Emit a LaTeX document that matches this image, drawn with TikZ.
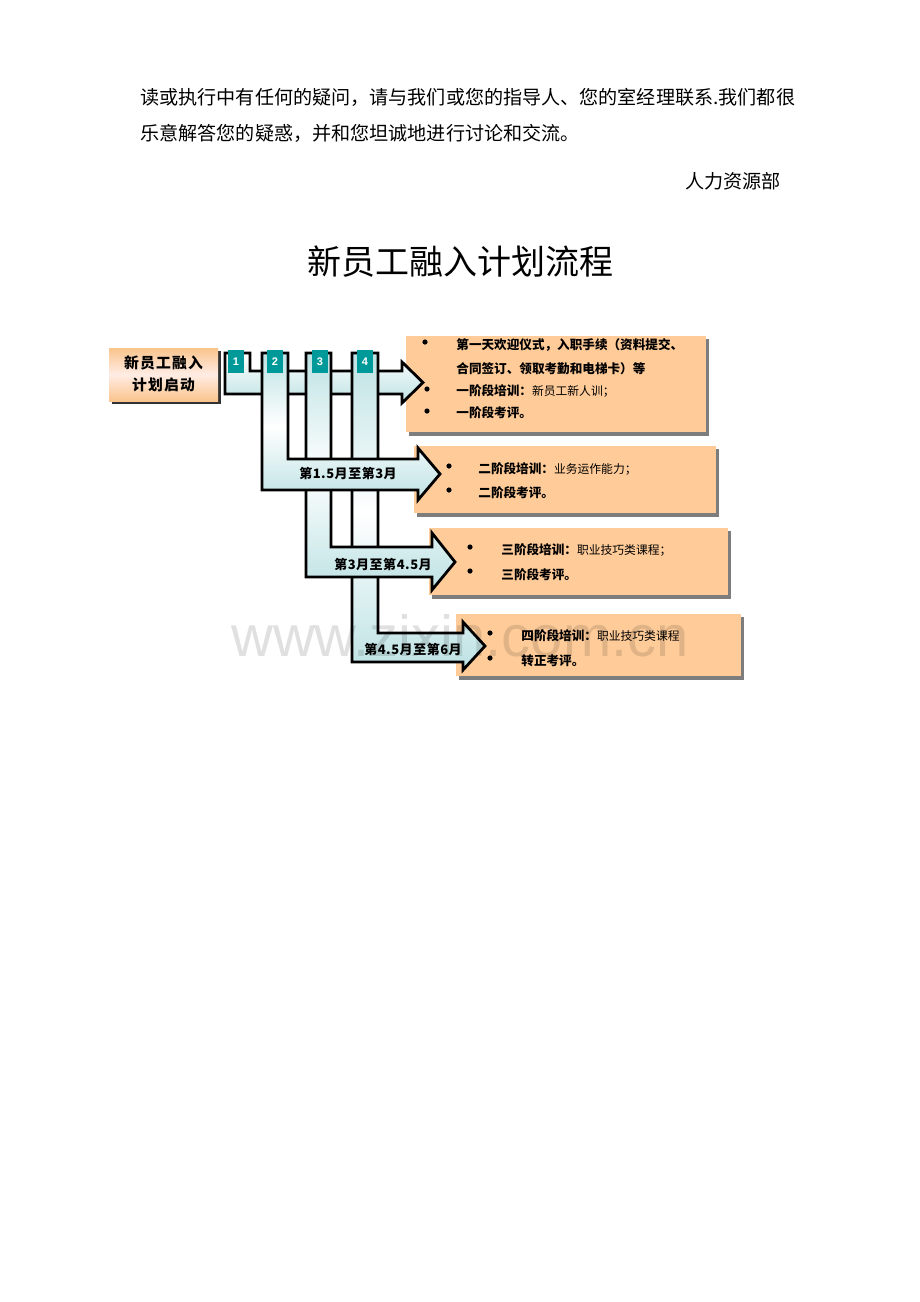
\documentclass[tikz,border=0pt]{standalone}
\usepackage{fontspec}
\setmainfont{Noto Sans CJK SC}
\newfontfamily\arialf{Liberation Sans}
\definecolor{teal1}{RGB}{0,153,153}
\definecolor{cyan1}{RGB}{190,226,228}
\definecolor{peach}{RGB}{255,204,153}
\definecolor{peachd}{RGB}{250,196,140}
\definecolor{pinkl}{RGB}{255,236,228}
\definecolor{shadowg}{RGB}{125,125,125}
\begin{document}
\begin{tikzpicture}[x=0.5pt,y=-0.5pt,
  arrowshape/.style={draw=black,line width=1.4pt,line join=miter},
  colshade/.style={top color=cyan1,bottom color=cyan1,middle color=white},
  tagbox/.style={fill=teal1,draw=none},
  tagtxt/.style={text=white,font=\arialf\bfseries\fontsize{5.5}{6}\selectfont,inner sep=0pt},
  infobox/.style={fill=peach,draw=none},
  boxshadow/.style={fill=shadowg,draw=none},
  bold/.style={font=\bfseries\fontsize{6.3}{7}\selectfont,inner sep=0pt,anchor=west},
  lbl/.style={font=\bfseries\fontsize{6.5}{7}\selectfont\addfontfeatures{LetterSpace=4},inner sep=0pt},
  bul/.style={fill=black,draw=none},
  body/.style={font=\fontsize{9.55}{12}\selectfont,inner sep=0pt}]
\useasboundingbox[fill=white] (0,0) rectangle (920,1302);

% top text
\node[body,anchor=west] (l1) at (140,97) {读或执行中有任何的疑问，请与我们或您的指导人、您的室经理联系.我们都很};
\node[body,anchor=west] (l2) at (140,133) {乐意解答您的疑惑，并和您坦诚地进行讨论和交流。};
\node[body,anchor=east] (sig) at (781,181) {人力资源部};
\node[font=\fontsize{17}{20}\selectfont,inner sep=0pt] (title) at (460,262) {新员工融入计划流程};

% start box
\fill[black!80] (112,351) rectangle (221,404);
\shade[top color=peachd,bottom color=peachd,middle color=pinkl] (109,348) rectangle (218,401);
\node[font=\bfseries\fontsize{7.4}{9}\selectfont\addfontfeatures{LetterSpace=8},align=center,inner sep=0pt] (start) at (163.5,374) {新员工融入\\[2pt]计划启动};

% info boxes with shadows
\fill[boxshadow] (409,339) rectangle (709,436);
\fill[infobox] (406,336) rectangle (706,432);
\fill[boxshadow] (417,449) rectangle (719,517);
\fill[infobox] (414,446) rectangle (716,513);
\fill[boxshadow] (432,531) rectangle (731,599);
\fill[infobox] (429,528) rectangle (728,595);
\fill[boxshadow] (459,617) rectangle (744,680);
\fill[infobox] (456,614) rectangle (741,676);

% box 1 text
\fill[bul] (425,342) circle (2.6);
\fill[bul] (427,389) circle (2.6);
\fill[bul] (427,411) circle (2.6);
\node[bold] (b1a) at (456,345) {第一天欢迎仪式，入职手续（资料提交、};
\node[bold] (b1b) at (456,369) {合同签订、领取考勤和电梯卡）等};
\node[bold] (b1c) at (456,391) {一阶段培训：{\mdseries\fontsize{5.9}{7}\selectfont 新员工新人训；}};
\node[bold] (b1d) at (456,413) {一阶段考评。};

% box 2 text
\fill[bul] (449,466) circle (2.6);
\fill[bul] (449,490) circle (2.6);
\node[bold] (b2a) at (478,469) {二阶段培训：{\mdseries\fontsize{5.9}{7}\selectfont 业务运作能力；}};
\node[bold] (b2b) at (478,493) {二阶段考评。};

% box 3 text
\fill[bul] (470,547) circle (2.6);
\fill[bul] (470,571) circle (2.6);
\node[bold] (b3a) at (501,550) {三阶段培训：{\mdseries\fontsize{5.9}{7}\selectfont 职业技巧类课程；}};
\node[bold] (b3b) at (501,575) {三阶段考评。};

% box 4 text
\fill[bul] (490,633) circle (2.6);
\fill[bul] (490,658) circle (2.6);
\node[bold] (b4a) at (521,636) {四阶段培训：{\mdseries\fontsize{5.9}{7}\selectfont 职业技巧类课程}};
\node[bold] (b4b) at (521,661) {转正考评。};

% arrow 1
\shade[top color=white,bottom color=cyan1] (225,353)--(250,353)--(250,371)--(402,371)--(402,362)--(423,382.5)--(402,403)--(402,394)--(225,394)--cycle;
\draw[arrowshape] (225,353)--(250,353)--(250,371)--(402,371)--(402,362)--(423,382.5)--(402,403)--(402,394)--(225,394)--cycle;
% arrow 4
\shade[colshade] (352,353)--(378,353)--(378,633)--(463,633)--(463,622)--(485,646)--(463,670)--(463,662)--(352,662)--cycle;
\draw[arrowshape] (352,353)--(378,353)--(378,633)--(463,633)--(463,622)--(485,646)--(463,670)--(463,662)--(352,662)--cycle;
% arrow 3
\shade[colshade] (306,353)--(331,353)--(331,547)--(432,547)--(432,533)--(455,562)--(432,590)--(432,577)--(306,577)--cycle;
\draw[arrowshape] (306,353)--(331,353)--(331,547)--(432,547)--(432,533)--(455,562)--(432,590)--(432,577)--(306,577)--cycle;
% arrow 2
\shade[colshade] (262,353)--(288,353)--(288,459)--(418,459)--(418,448)--(440,474)--(418,500)--(418,490)--(262,490)--cycle;
\draw[arrowshape] (262,353)--(288,353)--(288,459)--(418,459)--(418,448)--(440,474)--(418,500)--(418,490)--(262,490)--cycle;

% tags
\fill[tagbox] (228,350) rectangle (244,373);
\node[tagtxt] (t1) at (236,362) {1};
\fill[tagbox] (267,350) rectangle (283,373);
\node[tagtxt] (t2) at (275,362) {2};
\fill[tagbox] (312,350) rectangle (328,373);
\node[tagtxt] (t3) at (320,362) {3};
\fill[tagbox] (357,350) rectangle (373,373);
\node[tagtxt] (t4) at (365,362) {4};

% arrow labels
\node[lbl] (a2) at (348,473) {第1.5月至第3月};
\node[lbl] (a3) at (383,564) {第3月至第4.5月};
\node[lbl] (a4) at (413,649) {第4.5月至第6月};

% watermark
\node[font=\arialf\fontsize{29}{32}\selectfont,text=black,opacity=0.12,inner sep=0pt] (wm) at (460,636) {www.zixin.com.cn};
\end{tikzpicture}
\end{document}
